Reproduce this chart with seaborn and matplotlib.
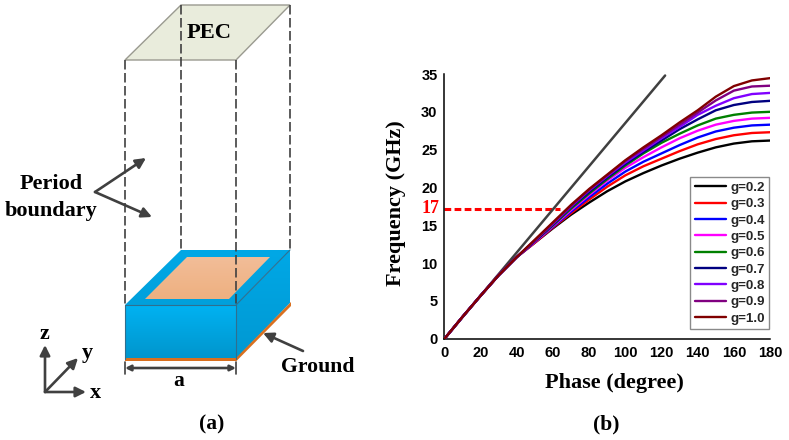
import numpy as np
import pandas as pd
import matplotlib
matplotlib.use('Agg')
import matplotlib.pyplot as plt
from matplotlib.patches import Polygon
import seaborn as sns

# values, phase in steps of 10 degrees
phase = [0, 10, 20, 30, 40, 50, 60, 70, 80, 90, 100, 110, 120, 130, 140, 150, 160, 170, 180]
low_part = [0, 2.9, 5.7, 8.4, 10.8]
g_02 = low_part + [12.7, 14.6, 16.4, 18.0, 19.5, 20.8, 21.9, 22.9, 23.8, 24.6, 25.3, 25.8, 26.1, 26.2]
g_03 = low_part + [12.7, 14.7, 16.6, 18.4, 20.1, 21.6, 22.8, 23.8, 24.8, 25.7, 26.4, 26.9, 27.2, 27.3]
g_04 = low_part + [12.8, 14.8, 16.8, 18.7, 20.5, 22.1, 23.4, 24.5, 25.6, 26.6, 27.4, 27.9, 28.2, 28.3]
g_05 = low_part + [12.8, 14.9, 17.0, 19.0, 20.9, 22.6, 24.0, 25.3, 26.5, 27.5, 28.3, 28.8, 29.1, 29.2]
g_06 = low_part + [12.9, 15.0, 17.2, 19.2, 21.1, 22.9, 24.5, 25.9, 27.1, 28.2, 29.1, 29.6, 29.9, 30.0]
g_07 = low_part + [12.9, 15.1, 17.4, 19.4, 21.3, 23.1, 24.7, 26.2, 27.7, 29.0, 30.2, 30.9, 31.3, 31.45]
g_08 = low_part + [13.0, 15.2, 17.5, 19.6, 21.5, 23.3, 24.9, 26.5, 28.0, 29.6, 30.8, 31.8, 32.35, 32.5]
g_09 = low_part + [13.0, 15.3, 17.6, 19.7, 21.6, 23.5, 25.1, 26.7, 28.3, 29.9, 31.5, 32.8, 33.35, 33.45]
g_10 = low_part + [13.1, 15.4, 17.7, 19.8, 21.7, 23.6, 25.3, 26.9, 28.6, 30.2, 32.0, 33.4, 34.15, 34.45]
light_x = [0, 122]
light_y = [0, 34.8]

g_labels = ['g=0.2', 'g=0.3', 'g=0.4', 'g=0.5', 'g=0.6', 'g=0.7', 'g=0.8', 'g=0.9', 'g=1.0']
g_colors = ['#000000', '#ff0000', '#0000ff', '#ff00ff', '#008000', '#000080', '#8000ff', '#800080', '#800000']
all_g = [g_02, g_03, g_04, g_05, g_06, g_07, g_08, g_09, g_10]
x_ticks = [0, 20, 40, 60, 80, 100, 120, 140, 160, 180]
y_ticks = [0, 5, 10, 15, 20, 25, 30, 35]

sns.set_theme(style='white')
plt.rcParams['font.family'] = ['Liberation Sans', 'DejaVu Sans']

W, H = 789, 440
fig = plt.figure(figsize=(W / 100, H / 100), dpi=100)

SERIF = 'Liberation Serif'
DARK = '#404040'

# left part, schematic drawn in pixel coordinates
sk = fig.add_axes([0, 0, 1, 1])
sk.set_xlim(0, W)
sk.set_ylim(H, 0)
sk.axis('off')


def gradient(ax, pts, top, bottom, z=2):
    # polygon filled with a vertical colour ramp
    xs = [p[0] for p in pts]
    ys = [p[1] for p in pts]
    c1 = np.array(matplotlib.colors.to_rgb(top))
    c2 = np.array(matplotlib.colors.to_rgb(bottom))
    ramp = np.linspace(0, 1, 64)[:, None, None]
    img = c1[None, None, :] * (1 - ramp) + c2[None, None, :] * ramp
    im = ax.imshow(img, extent=[min(xs), max(xs), max(ys), min(ys)], aspect='auto', zorder=z)
    im.set_clip_path(Polygon(pts, closed=True, transform=ax.transData))


sk.add_patch(Polygon([(125, 60), (181, 5), (290, 5), (236, 60)], fc='#e9ecdc', ec='#9a9a90', lw=1, zorder=1))
gradient(sk, [(125, 305), (181, 250), (290, 250), (236, 305)], '#00a8e6', '#00a0dc')
gradient(sk, [(125, 305), (236, 305), (236, 359), (125, 359)], '#00b2f2', '#0095cc')
gradient(sk, [(236, 305), (290, 250), (290, 303), (236, 359)], '#00a8e6', '#0098d2')
gradient(sk, [(145, 299), (187, 257), (270, 257), (229, 299)], '#f2bd98', '#eeb080', z=3)
sk.add_patch(Polygon([(125, 358), (236, 358), (236, 361.5), (125, 361.5)], fc='#d9701f', ec='none', zorder=4))
sk.add_patch(Polygon([(236, 358), (291, 302), (291, 306), (236, 361.5)], fc='#d9701f', ec='none', zorder=4))
for seg in [[(125, 305), (236, 305), (236, 359)], [(236, 305), (290, 250)], [(125, 305), (125, 359)]]:
    sk.plot([p[0] for p in seg], [p[1] for p in seg], color='#2f6f8f', lw=0.8, zorder=5)
sk.set_xlim(0, W)
sk.set_ylim(H, 0)

for x, y0, y1 in [(125, 60, 305), (181, 5, 250), (236, 60, 305), (290, 5, 250)]:
    sk.plot([x, x], [y0, y1], color=DARK, lw=1.2, dashes=(5.7, 2.1), zorder=6)


def arrow(ax, start, end, style='-|>', scale=15):
    ax.annotate('', xy=end, xytext=start, zorder=7,
                arrowprops=dict(arrowstyle=style, color=DARK, lw=1.9, shrinkA=0, shrinkB=0,
                                mutation_scale=scale))


arrow(sk, (95, 192), (146, 158))
arrow(sk, (95, 192), (152, 217))
arrow(sk, (45, 392), (45, 345))
arrow(sk, (45, 392), (78, 358))
arrow(sk, (45, 392), (86, 392))
arrow(sk, (303, 351), (263, 333))
arrow(sk, (125, 368), (236, 368), '<|-|>', 8)
sk.plot([125, 125], [362, 374], color=DARK, lw=1.2)
sk.plot([236, 236], [362, 374], color=DARK, lw=1.2)

sketch_texts = [('PEC', 209, 33, 16.2), ('Period', 51, 184, 16), ('boundary', 51, 211, 16),
                ('Ground', 318, 367, 15.7), ('a', 179, 381, 15.5), ('z', 44, 334, 16),
                ('y', 87, 353, 16), ('x', 95, 393, 16), ('(a)', 212, 424, 15.5), ('(b)', 606, 424, 15.5)]
for txt, x, y, size in sketch_texts:
    sk.text(x, y, txt, family=SERIF, weight='bold', fontsize=size, color='black',
            ha='center', va='center', zorder=8)

# right part, dispersion curves
ax = fig.add_axes([444.5 / W, (H - 338.7) / H, 325.5 / W, 264.7 / H])
df = pd.concat([pd.DataFrame({'phase': phase, 'freq': vals, 'g': lab}) for vals, lab in zip(all_g, g_labels)])
sns.lineplot(data=df, x='phase', y='freq', hue='g', palette=g_colors, hue_order=g_labels,
             linewidth=1.7, ax=ax, zorder=3)
sns.lineplot(x=light_x, y=light_y, color=DARK, linewidth=1.8, ax=ax, zorder=2)
ax.plot([0, 64], [17.2, 17.2], color='#ff0000', lw=2.2, dashes=(2.2, 1.1), zorder=1)
ax.text(-2.8, 17.2, '17', color='#ff0000', family=SERIF, weight='bold', fontsize=13, ha='right', va='center')

ax.set_xlim(0, 180)
ax.set_ylim(0, 35)
ax.set_xticks(x_ticks)
ax.set_yticks(y_ticks)
ax.tick_params(length=0, labelsize=10.5, colors='black', pad=5)
for lab in ax.get_xticklabels() + ax.get_yticklabels():
    lab.set_fontweight('bold')
ax.patch.set_alpha(0)
for side in ['top', 'right']:
    ax.spines[side].set_visible(False)
for side in ['left', 'bottom']:
    ax.spines[side].set_color('black')
    ax.spines[side].set_linewidth(1.1)
ax.set_xlabel('Phase (degree)', family=SERIF, weight='bold', fontsize=16, color='black')
ax.set_ylabel('Frequency (GHz)', family=SERIF, weight='bold', fontsize=16, color='black')
ax.xaxis.set_label_coords(0.522, -0.13)
ax.yaxis.set_label_coords(-0.118, 0.513)

leg = ax.legend(title=None, loc='lower right', bbox_to_anchor=(0.997, 0.037), borderaxespad=0,
                fancybox=False, framealpha=1, edgecolor='#8a8a8a',
                labelspacing=0.3, handlelength=2.35, handletextpad=0.3, borderpad=0.33,
                prop=dict(weight='bold', size=9.6))
leg.get_frame().set_linewidth(1.0)

fig.savefig('out.png', dpi=100)
